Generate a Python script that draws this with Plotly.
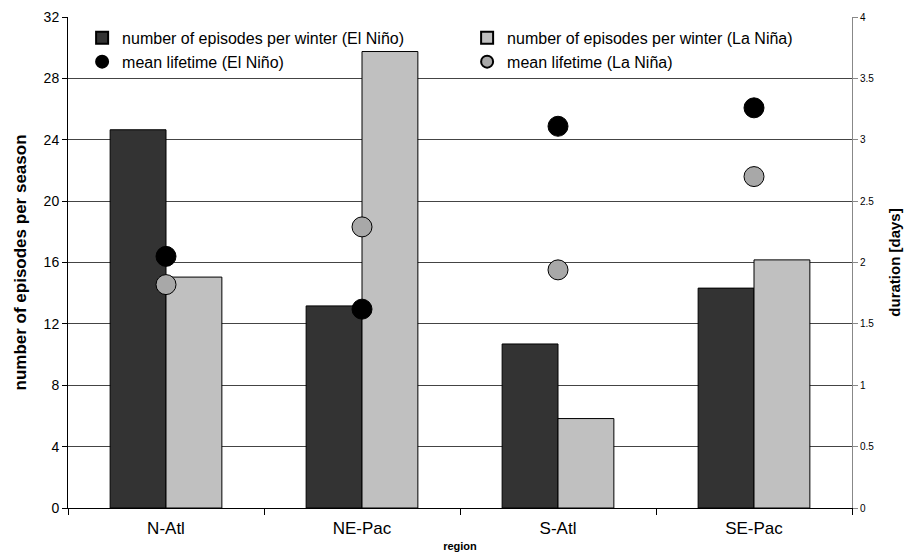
import plotly.graph_objects as go

regions = ["N-Atl", "NE-Pac", "S-Atl", "SE-Pac"]
episodes_el_nino = [24.65, 13.17, 10.69, 14.33]
episodes_la_nina = [15.05, 29.75, 5.83, 16.17]
lifetime_el_nino = [2.05, 1.62, 3.11, 3.26]
lifetime_la_nina = [1.82, 2.29, 1.94, 2.70]

left_ticks = [0, 4, 8, 12, 16, 20, 24, 28, 32]
right_ticks = [0, 0.5, 1, 1.5, 2, 2.5, 3, 3.5, 4]

FONT = "Liberation Sans, Arial, sans-serif"

fig = go.Figure()
fig.add_trace(go.Bar(
    x=regions, y=episodes_el_nino, name="number of episodes per winter (El Niño)",
    marker=dict(color="#333333", line=dict(color="#000000", width=1)),
    legendrank=1,
))
fig.add_trace(go.Bar(
    x=regions, y=episodes_la_nina, name="number of episodes per winter (La Niña)",
    marker=dict(color="#c0c0c0", line=dict(color="#000000", width=1)),
    legendrank=2,
))
fig.add_trace(go.Scatter(
    x=regions, y=lifetime_el_nino, name="mean lifetime (El Niño)", yaxis="y2",
    mode="markers",
    marker=dict(color="#000000", size=20, line=dict(color="#000000", width=1)),
    legendrank=3,
))
fig.add_trace(go.Scatter(
    x=regions, y=lifetime_la_nina, name="mean lifetime (La Niña)", yaxis="y2",
    mode="markers",
    marker=dict(color="#a8a8a8", size=20, line=dict(color="#000000", width=1)),
    legendrank=4,
))

fig.update_layout(
    width=904, height=557,
    margin=dict(l=68, r=52, t=17, b=49),
    paper_bgcolor="white", plot_bgcolor="white",
    font=dict(family=FONT, color="#000000"),
    barmode="group", bargap=0.43, bargroupgap=0,
    showlegend=True,
    legend=dict(
        orientation="h", x=0.018, y=0.992, xanchor="left", yanchor="top",
        entrywidth=340, entrywidthmode="pixels",
        itemsizing="constant", itemwidth=30,
        font=dict(size=16, family=FONT), bgcolor="rgba(0,0,0,0)",
        tracegroupgap=0,
    ),
    xaxis=dict(
        type="category", showline=True, linecolor="#000000", linewidth=1,
        ticks="outside", tickson="boundaries", ticklen=6, tickcolor="#000000",
        tickfont=dict(size=17), ticklabelstandoff=5, showgrid=False, automargin=False,
        title=dict(text="<b>region</b>", font=dict(size=11), standoff=4),
    ),
    yaxis=dict(
        range=[0, 32], tickvals=left_ticks, ticktext=[str(v) for v in left_ticks],
        showline=True, linecolor="#000000", linewidth=1,
        ticks="outside", ticklen=5, tickcolor="#000000",
        tickfont=dict(size=14), showgrid=True, gridcolor="#444444", gridwidth=1,
        zeroline=False, automargin=False,
        title=dict(text="<b>number of episodes per season</b>", font=dict(size=17), standoff=12),
    ),
    yaxis2=dict(
        range=[0, 4], tickvals=right_ticks, ticktext=[f"{v:g}" for v in right_ticks],
        overlaying="y", side="right",
        showline=True, linecolor="#888888", linewidth=1,
        ticks="outside", ticklen=5, tickcolor="#888888",
        tickfont=dict(size=10), showgrid=False, zeroline=False, automargin=False,
        title=dict(text="<b>duration [days]</b>", font=dict(size=15), standoff=16),
    ),
)

fig.write_html(
    "out.html",
    config={"displayModeBar": False},
    post_script="document.body.style.margin='0';",
)
